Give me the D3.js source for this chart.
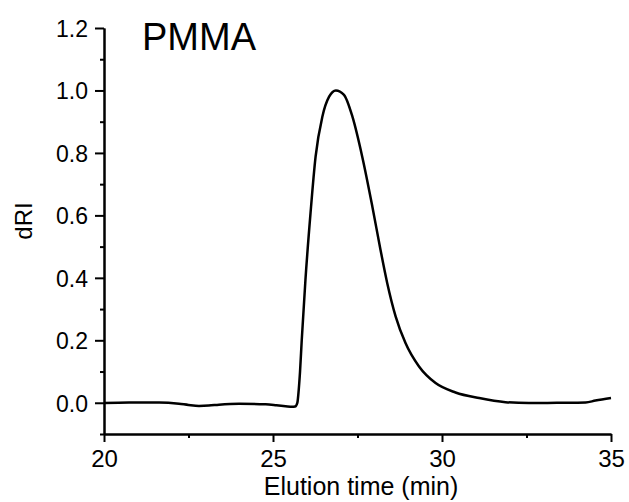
<!DOCTYPE html>
<html><head><meta charset="utf-8">
<script src="https://cdn.jsdelivr.net/npm/d3@7"></script>
<style>body{margin:0;background:#fff}text{font-family:"Liberation Sans",Arial,sans-serif;fill:#000}</style>
</head><body><svg id="c" width="629" height="502"></svg>
<script>
const time = [20,20.74,21.63,22.22,22.5,22.81,23.1,23.4,24.0,24.78,25.1,25.37,25.57,25.65,25.72,25.76,25.8,25.85,25.96,26.11,26.26,26.46,26.66,26.86,27.1,27.35,27.64,27.94,28.18,28.38,28.63,28.92,29.32,29.81,30.4,31.1,31.88,32.57,33.4,34.25,34.54,35];
const dRI  = [-0.001,0.001,0.001,-0.003,-0.007,-0.010,-0.009,-0.006,-0.003,-0.005,-0.008,-0.011,-0.013,-0.012,0.0,0.04,0.1,0.2,0.394,0.607,0.788,0.916,0.98,1.0,0.986,0.916,0.788,0.628,0.49,0.383,0.276,0.191,0.116,0.063,0.033,0.015,0.002,-0.001,0.0,0.001,0.007,0.015];
const xTicks = [20,25,30,35];
const yTicks = [0.0,0.2,0.4,0.6,0.8,1.0,1.2];
const xMinor = [22.5,27.5,32.5];
const yMinor = [-0.1,0.1,0.3,0.5,0.7,0.9,1.1];

const svg = d3.select("#c");
const x = d3.scaleLinear().domain([20,35]).range([104,611]);
const y = d3.scaleLinear().domain([-0.1,1.2]).range([434,28]);

// x axis
const gx = svg.append("g").attr("transform","translate(0,434)")
  .call(d3.axisBottom(x).tickValues(xTicks).tickFormat(d3.format("d")).tickSize(8).tickSizeOuter(0));
gx.append("g").call(d3.axisBottom(x).tickValues(xMinor).tickFormat("").tickSize(4).tickSizeOuter(0));
// y axis
const gy = svg.append("g").attr("transform","translate(104,0)")
  .call(d3.axisLeft(y).tickValues(yTicks).tickFormat(d3.format(".1f")).tickSize(9).tickSizeOuter(0));
gy.append("g").call(d3.axisLeft(y).tickValues(yMinor).tickFormat("").tickSize(4).tickSizeOuter(0));

svg.selectAll(".domain").attr("stroke","#000").attr("stroke-width",2);
svg.selectAll(".tick line").attr("stroke","#000").attr("stroke-width",2);
gx.selectAll(".tick text").attr("font-size",24).attr("dy",0).attr("y",33);
gy.selectAll(".tick text").attr("font-size",23).attr("x",-16).attr("dy","0.36em");

// curve
svg.append("path").datum(time.map((t,i)=>[t,dRI[i]]))
  .attr("fill","none").attr("stroke","#000").attr("stroke-width",2.5)
  .attr("d", d3.line().x(d=>x(d[0])).y(d=>y(d[1])).curve(d3.curveMonotoneX));

// labels
svg.append("text").attr("x",361).attr("y",495).attr("text-anchor","middle").attr("font-size",25).text("Elution time (min)");
svg.append("text").attr("transform","translate(32,221) rotate(-90)").attr("text-anchor","middle").attr("font-size",24).text("dRI");
svg.append("text").attr("x",142).attr("y",50).attr("font-size",38).text("PMMA");
</script></body></html>
